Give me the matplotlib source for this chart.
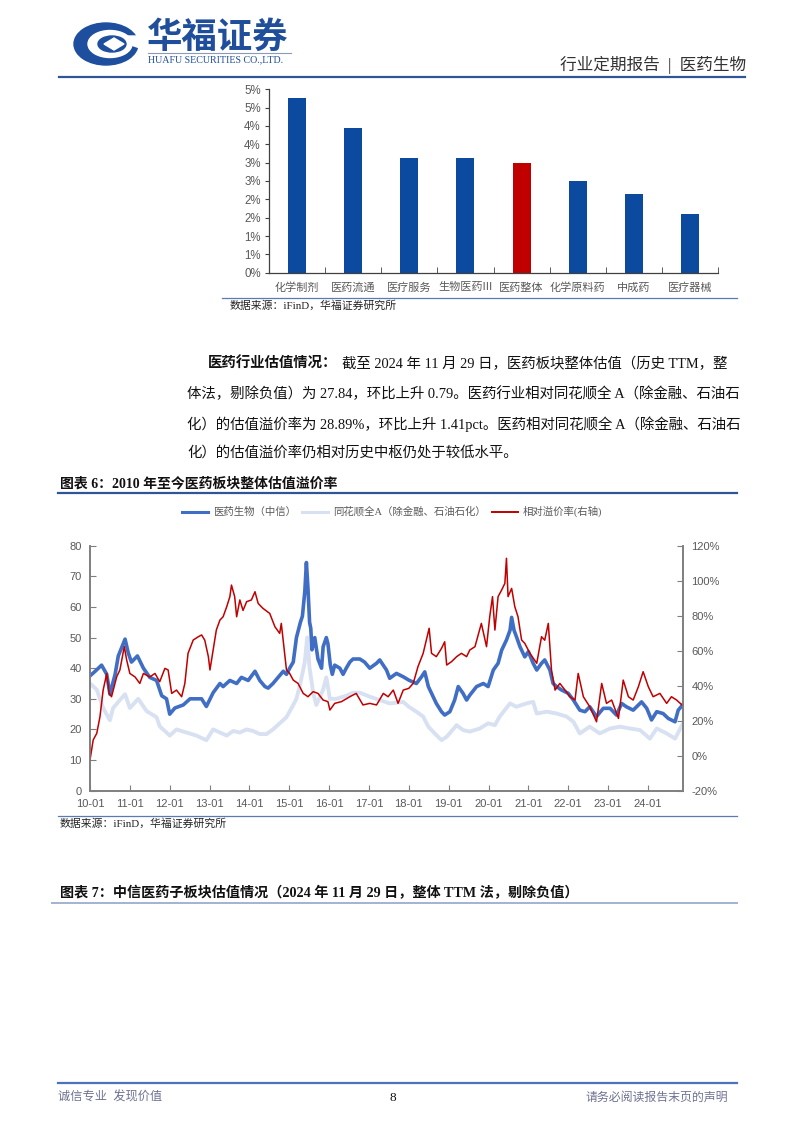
import numpy as np
import matplotlib
matplotlib.use("Agg")
import matplotlib.pyplot as plt
from matplotlib.patches import Ellipse, Polygon

plt.rcParams['font.family'] = ['Liberation Serif', 'Noto Sans CJK SC']

W, H = 802, 1133

# ---- bar chart data ----
bar_names = ["化学制剂", "医药流通", "医疗服务", "生物医药III", "医药整体", "化学原料药", "中成药", "医疗器械"]
bar_values = [4.76, 3.94, 3.14, 3.14, 2.98, 2.51, 2.14, 1.60]
bar_ticks = [0, 0.5, 1, 1.5, 2, 2.5, 3, 3.5, 4, 4.5, 5]
bar_tick_labels = ["0%", "1%", "1%", "2%", "2%", "3%", "3%", "4%", "4%", "5%", "5%"]

# ---- line chart data (decimal year, value) ----
pharma_t = [2010.00, 2010.13, 2010.29, 2010.42, 2010.50, 2010.63, 2010.71, 2010.88, 2010.96, 2011.04,
            2011.19, 2011.34, 2011.50, 2011.67, 2011.80, 2011.92, 2012.00, 2012.13, 2012.34, 2012.51,
            2012.67, 2012.80, 2012.92, 2013.09, 2013.26, 2013.34, 2013.51, 2013.68, 2013.80, 2013.97,
            2014.14, 2014.26, 2014.39, 2014.47, 2014.59, 2014.72, 2014.85, 2014.93, 2015.01, 2015.10,
            2015.18, 2015.28, 2015.33, 2015.39, 2015.43, 2015.47, 2015.51, 2015.54, 2015.57, 2015.64,
            2015.72, 2015.81, 2015.85, 2015.93, 2015.97, 2016.03, 2016.08, 2016.14, 2016.27, 2016.35,
            2016.43, 2016.52, 2016.60, 2016.77, 2016.89, 2017.02, 2017.19, 2017.27, 2017.44, 2017.52,
            2017.69, 2017.86, 2018.00, 2018.19, 2018.32, 2018.40, 2018.49, 2018.61, 2018.69, 2018.82,
            2018.90, 2019.03, 2019.15, 2019.24, 2019.36, 2019.45, 2019.53, 2019.70, 2019.87, 2019.99,
            2020.12, 2020.24, 2020.33, 2020.45, 2020.54, 2020.58, 2020.64, 2020.70, 2020.79, 2020.91,
            2021.00, 2021.12, 2021.21, 2021.33, 2021.41, 2021.54, 2021.62, 2021.71, 2021.83, 2022.00,
            2022.13, 2022.29, 2022.42, 2022.54, 2022.71, 2022.79, 2022.88, 2023.05, 2023.21, 2023.34,
            2023.46, 2023.63, 2023.84, 2023.97, 2024.09, 2024.22, 2024.38, 2024.51, 2024.68, 2024.76,
            2024.86]
pharma_pe = [37.5, 39, 41, 38, 31.5, 38, 44, 49.5, 45, 42,
             44, 40, 37, 36, 31, 30, 25, 27, 28, 30,
             30, 30, 27.5, 32, 35, 34, 36, 35, 37, 36,
             39, 36, 34, 33.5, 35, 37, 39, 38, 40, 42,
             50, 55, 57, 65, 74.5, 66, 55, 53, 46, 50,
             43, 40, 47, 50, 48, 41, 38, 41, 40, 38,
             40, 42, 43, 43, 42, 40, 41.6, 42.7, 39.4, 36.7,
             38.3, 37.2, 36.1, 35, 37.2, 38.8, 34, 30.7, 28.5, 25.8,
             24.7, 25.8, 29.6, 34, 31.8, 29.6, 31.2, 34, 35, 34,
             39.4, 41.6, 45.9, 49.2, 52.4, 56.6, 52.4, 50.3, 47, 43.7,
             45.4, 41.6, 39.4, 41.6, 42.7, 39.4, 35, 34, 32.9, 31.8,
             29.6, 26.3, 25.8, 27.4, 24.2, 25.5, 26.9, 26.9, 24.7, 28.5,
             27.4, 26.3, 29, 26.9, 23.1, 25.8, 25.2, 23.6, 22.5, 26.3,
             27.84]

alla_t = [2010.00, 2010.17, 2010.33, 2010.50, 2010.58, 2010.71, 2010.88, 2011.00, 2011.21, 2011.42,
          2011.67, 2011.75, 2011.92, 2012.00, 2012.17, 2012.42, 2012.67, 2012.92, 2013.09, 2013.26,
          2013.43, 2013.59, 2013.76, 2013.93, 2014.09, 2014.26, 2014.43, 2014.59, 2014.76, 2014.93,
          2015.10, 2015.18, 2015.26, 2015.39, 2015.45, 2015.51, 2015.60, 2015.68, 2015.85, 2015.93,
          2016.02, 2016.18, 2016.43, 2016.60, 2016.77, 2017.02, 2017.27, 2017.52, 2017.86, 2018.00,
          2018.19, 2018.36, 2018.49, 2018.65, 2018.82, 2018.95, 2019.20, 2019.36, 2019.53, 2019.78,
          2019.99, 2020.16, 2020.28, 2020.54, 2020.70, 2020.95, 2021.12, 2021.21, 2021.46, 2021.71,
          2021.96, 2022.13, 2022.29, 2022.54, 2022.79, 2023.05, 2023.30, 2023.55, 2023.80, 2024.05,
          2024.22, 2024.47, 2024.68, 2024.86]
alla_pe = [35, 33, 27, 23, 27, 29, 31.5, 27, 30, 26,
           24, 21, 19, 18, 20, 19, 18, 16.5, 20, 19,
           18, 19.5, 19, 20, 19.5, 18.5, 18.5, 20, 22, 24,
           28, 30, 34, 42, 50, 40, 32, 28, 33, 37,
           30, 30, 31, 32, 32, 30.7, 29.6, 28.5, 29, 27.4,
           25.8, 24.2, 20.9, 18.7, 16.5, 17.6, 21.4, 19.8, 19.3, 20.3,
           22, 21.4, 24.2, 28.5, 27.4, 28.5, 29, 25.2, 25.8, 25.2,
           24.2, 22.5, 18.7, 20.9, 18.7, 20.3, 20.9, 20.3, 19.8, 17,
           20.3, 18.7, 17, 21.5]

premium_t = [2010.00, 2010.08, 2010.17, 2010.25, 2010.33, 2010.42, 2010.48, 2010.54, 2010.67, 2010.75,
             2010.86, 2010.92, 2011.00, 2011.13, 2011.25, 2011.34, 2011.50, 2011.63, 2011.75, 2011.88,
             2011.96, 2012.05, 2012.17, 2012.30, 2012.38, 2012.46, 2012.59, 2012.72, 2012.80, 2012.88,
             2012.97, 2013.01, 2013.09, 2013.17, 2013.26, 2013.34, 2013.43, 2013.51, 2013.55, 2013.63,
             2013.68, 2013.76, 2013.84, 2013.93, 2014.05, 2014.14, 2014.22, 2014.34, 2014.51, 2014.64,
             2014.76, 2014.80, 2014.93, 2015.01, 2015.10, 2015.22, 2015.35, 2015.47, 2015.60, 2015.72,
             2015.85, 2015.97, 2016.02, 2016.14, 2016.31, 2016.52, 2016.68, 2016.85, 2017.02, 2017.19,
             2017.36, 2017.48, 2017.61, 2017.73, 2017.86, 2018.00, 2018.11, 2018.23, 2018.36, 2018.44,
             2018.51, 2018.57, 2018.69, 2018.82, 2018.90, 2018.95, 2019.07, 2019.20, 2019.32, 2019.45,
             2019.53, 2019.66, 2019.82, 2019.95, 2020.03, 2020.10, 2020.16, 2020.24, 2020.33, 2020.41,
             2020.45, 2020.49, 2020.58, 2020.66, 2020.74, 2020.83, 2020.91, 2021.04, 2021.21, 2021.33,
             2021.41, 2021.50, 2021.58, 2021.67, 2021.79, 2021.92, 2022.04, 2022.17, 2022.25, 2022.38,
             2022.54, 2022.71, 2022.84, 2022.96, 2023.09, 2023.26, 2023.38, 2023.51, 2023.63, 2023.76,
             2023.88, 2024.01, 2024.13, 2024.30, 2024.47, 2024.59, 2024.72, 2024.86]
premium = [-2.5, 9, 12.8, 22.3, 37.5, 47, 35.6, 33.7, 45.1, 49,
           62.3, 54.7, 47, 45, 41.3, 47, 45, 47, 42.3, 49.9,
           49, 35.6, 37.5, 33.7, 41.3, 58.5, 66.1, 68, 69, 66,
           56.6, 49, 60.4, 71.8, 77.5, 79.4, 85.1, 90.9, 97.5, 90.9,
           79.4, 89, 83, 88, 89, 93.7, 87, 84.2, 81.3, 73.7,
           69.9, 75.6, 49, 47, 43.2, 41.3, 35.6, 33.7, 36.6, 35.6,
           31.8, 30.9, 26.1, 29.9, 30.9, 33.7, 35.6, 29, 29.9, 29,
           35.6, 33.7, 37.5, 29.9, 37.5, 38.5, 41.3, 50.9, 58.5, 66.1,
           72.8, 58.5, 56.6, 61.3, 65.1, 51.8, 53.7, 56.6, 58.5, 56.6,
           60.4, 62.3, 75.6, 62.3, 79.4, 90.9, 71.8, 90.9, 94.7, 98.5,
           112.8, 90.9, 95.6, 85.1, 79.4, 66.1, 64.2, 58.5, 52.8, 68,
           66, 75.6, 49, 37.5, 41.3, 37.5, 33.7, 31.8, 47, 33.7,
           28, 19.4, 41.3, 29.9, 31.8, 21.3, 43.2, 33.7, 31.8, 39.4,
           48, 39.4, 33.7, 35.6, 29.9, 33.7, 31.8, 28.89]

years = list(range(2010, 2025))
year_labels = ["10-01", "11-01", "12-01", "13-01", "14-01", "15-01", "16-01", "17-01",
               "18-01", "19-01", "20-01", "21-01", "22-01", "23-01", "24-01"]

left_ticks = [0, 10, 20, 30, 40, 50, 60, 70, 80]
right_ticks = [-20, 0, 20, 40, 60, 80, 100, 120]

BLUE = '#3F6EC4'
LIGHT = '#D8E1F1'
RED = '#C00000'
BAR_BLUE = '#0B4A9F'
HEAD_BLUE = '#1F4E9B'
GRAY = '#595959'
BODY = 10.4


def rect(x0, y0, x1, y1):
    # pixel box (top-left origin) -> figure rect
    return [x0 / W, 1 - y1 / H, (x1 - x0) / W, (y1 - y0) / H]


fig = plt.figure(figsize=(W / 100, H / 100), dpi=100)

page = fig.add_axes([0, 0, 1, 1])
page.axis('off')

# header
page.add_patch(Ellipse((106, 44), 64, 42, color='#1D4F9E'))
page.add_patch(Ellipse((110, 44), 44, 27, color='white'))
page.add_patch(Ellipse((112, 44), 28, 16, color='#1D4F9E'))
page.add_patch(Polygon([[104, 44], [114, 38], [124, 44], [114, 50]], closed=True, color='white'))
page.add_patch(Polygon([[126, 36], [140, 36], [140, 48], [128, 44]], closed=True, color='white'))
page.text(147, 37, "华福证券", fontsize=25.5, color=HEAD_BLUE, fontweight='bold',
          family=['Noto Sans CJK SC'], va='center', ha='left')
page.plot([148, 291], [53, 53], color='#8C9AB8', lw=0.8)
page.text(148, 60, "HUAFU SECURITIES CO.,LTD.", fontsize=7.2, color=HEAD_BLUE,
          family=['Liberation Serif'], va='center', ha='left')
page.text(746, 65, "行业定期报告  |  医药生物", fontsize=12, color='#333333',
          va='center', ha='right')
page.plot([59, 745], [76.5, 76.5], color='#2F5597', lw=1.6)

# bar chart source
page.plot([222, 737], [298, 298], color='#5A7AB5', lw=0.9)
page.text(230, 306, "数据来源：iFinD，华福证券研究所", fontsize=7.8, color='#222222',
          va='center', ha='left')

# paragraph
page.text(208, 364, "医药行业估值情况：", fontsize=BODY, fontweight='bold', color='#111111',
          va='center', ha='left')
page.text(342, 364, "截至 2024 年 11 月 29 日，医药板块整体估值（历史 TTM，整",
          fontsize=BODY, color='#111111', va='center', ha='left')
page.text(187, 394, "体法，剔除负值）为 27.84，环比上升 0.79。医药行业相对同花顺全 A（除金融、石油石",
          fontsize=BODY, color='#111111', va='center', ha='left')
page.text(187, 424, "化）的估值溢价率为 28.89%，环比上升 1.41pct。医药相对同花顺全 A（除金融、石油石",
          fontsize=BODY, color='#111111', va='center', ha='left')
page.text(187, 453, "化）的估值溢价率仍相对历史中枢仍处于较低水平。",
          fontsize=BODY, color='#111111', va='center', ha='left')

# figure 6 title
page.text(60, 484, "图表 6：2010 年至今医药板块整体估值溢价率", fontsize=10, fontweight='bold',
          color='#111111', va='center', ha='left')
page.plot([58, 737], [492.5, 492.5], color='#2F5597', lw=1.6)

# legend of line chart
page.plot([182, 208], [511.5, 511.5], color=BLUE, lw=2.2)
page.text(213, 511.5, "医药生物（中信）", fontsize=7.5, color=GRAY, va='center', ha='left')
page.plot([302, 328], [511.5, 511.5], color=LIGHT, lw=2.2)
page.text(333, 511.5, "同花顺全A（除金融、石油石化）", fontsize=7.5, color=GRAY, va='center', ha='left')
page.plot([492, 518], [511.5, 511.5], color=RED, lw=1.4)
page.text(523, 511.5, "相对溢价率(右轴)", fontsize=7.5, color=GRAY, va='center', ha='left')

# line chart source
page.plot([58, 737], [816, 816], color='#5A7AB5', lw=0.9)
page.text(60, 824, "数据来源：iFinD，华福证券研究所", fontsize=7.8, color='#222222',
          va='center', ha='left')

# figure 7 title
page.text(60, 893, "图表 7：中信医药子板块估值情况（2024 年 11 月 29 日，整体 TTM 法，剔除负值）",
          fontsize=10.2, fontweight='bold', color='#111111', va='center', ha='left')
page.plot([52, 737], [902.5, 902.5], color='#A3B2D2', lw=1.4)

# footer
page.plot([58, 737], [1083, 1083], color='#4A74C0', lw=1.6)
page.text(58, 1098, "诚信专业  发现价值", fontsize=8.8, color='#6F7391', va='center', ha='left')
page.text(393, 1098, "8", fontsize=9.5, color='#111111', va='center', ha='center')
page.text(728, 1098, "请务必阅读报告末页的声明", fontsize=8.6, color='#6F7391', va='center', ha='right')

page.set_xlim(0, W)
page.set_ylim(H, 0)

# ---- bar chart ----
ax1 = fig.add_axes(rect(269, 89.3, 718, 272.7))
ax1.set_facecolor('none')
x = np.arange(len(bar_names))
colors = [RED if n == "医药整体" else BAR_BLUE for n in bar_names]
ax1.bar(x, bar_values, width=0.32, color=colors)
ax1.set_xlim(-0.5, len(bar_names) - 0.5)
ax1.set_ylim(0, 5)
ax1.set_yticks(bar_ticks, bar_tick_labels)
ax1.set_xticks(x, bar_names)
ax1.set_xticks(np.arange(-0.5, len(bar_names), 1), minor=True)
ax1.tick_params(axis='x', which='major', length=0, pad=7, labelsize=8, labelcolor=GRAY)
ax1.tick_params(axis='x', which='minor', direction='in', length=4, color='#404040')
ax1.tick_params(axis='y', direction='out', length=3, pad=3, labelsize=8.3, labelcolor=GRAY,
                color='#404040')
for lab in ax1.get_yticklabels():
    lab.set_family(['Liberation Sans'])
for lab in ax1.get_xticklabels():
    lab.set_family(['Noto Sans CJK SC'])
for s in ['top', 'right']:
    ax1.spines[s].set_visible(False)
for s in ['left', 'bottom']:
    ax1.spines[s].set_color('#404040')
    ax1.spines[s].set_linewidth(0.9)

# ---- line chart ----
ax2 = fig.add_axes(rect(90, 545.7, 683, 790.7))
ax2.set_facecolor('none')
ax2.plot(alla_t, alla_pe, color=LIGHT, lw=2.8, zorder=2)
ax2.plot(pharma_t, pharma_pe, color=BLUE, lw=2.6, zorder=3)
ax2.set_xlim(2010.0, 2024.88)
ax2.set_ylim(0, 80)
ax2.set_yticks(left_ticks)
ax2.set_xticks(years, year_labels)

ax3 = ax2.twinx()
ax3.plot(premium_t, premium, color=RED, lw=1.1)
ax3.set_ylim(-20, 120)
ax3.set_yticks(right_ticks, [f"{v}%" for v in right_ticks])

for a in (ax2, ax3):
    a.spines['top'].set_visible(False)
    for s in ['left', 'right', 'bottom']:
        a.spines[s].set_color('#7F7F7F')
        a.spines[s].set_linewidth(1.2)
    a.tick_params(direction='in', length=4, color='#7F7F7F', labelsize=8, labelcolor=GRAY, pad=6)
    for lab in a.get_xticklabels() + a.get_yticklabels():
        lab.set_family(['Liberation Sans'])

fig.savefig("out.png", dpi=100)
